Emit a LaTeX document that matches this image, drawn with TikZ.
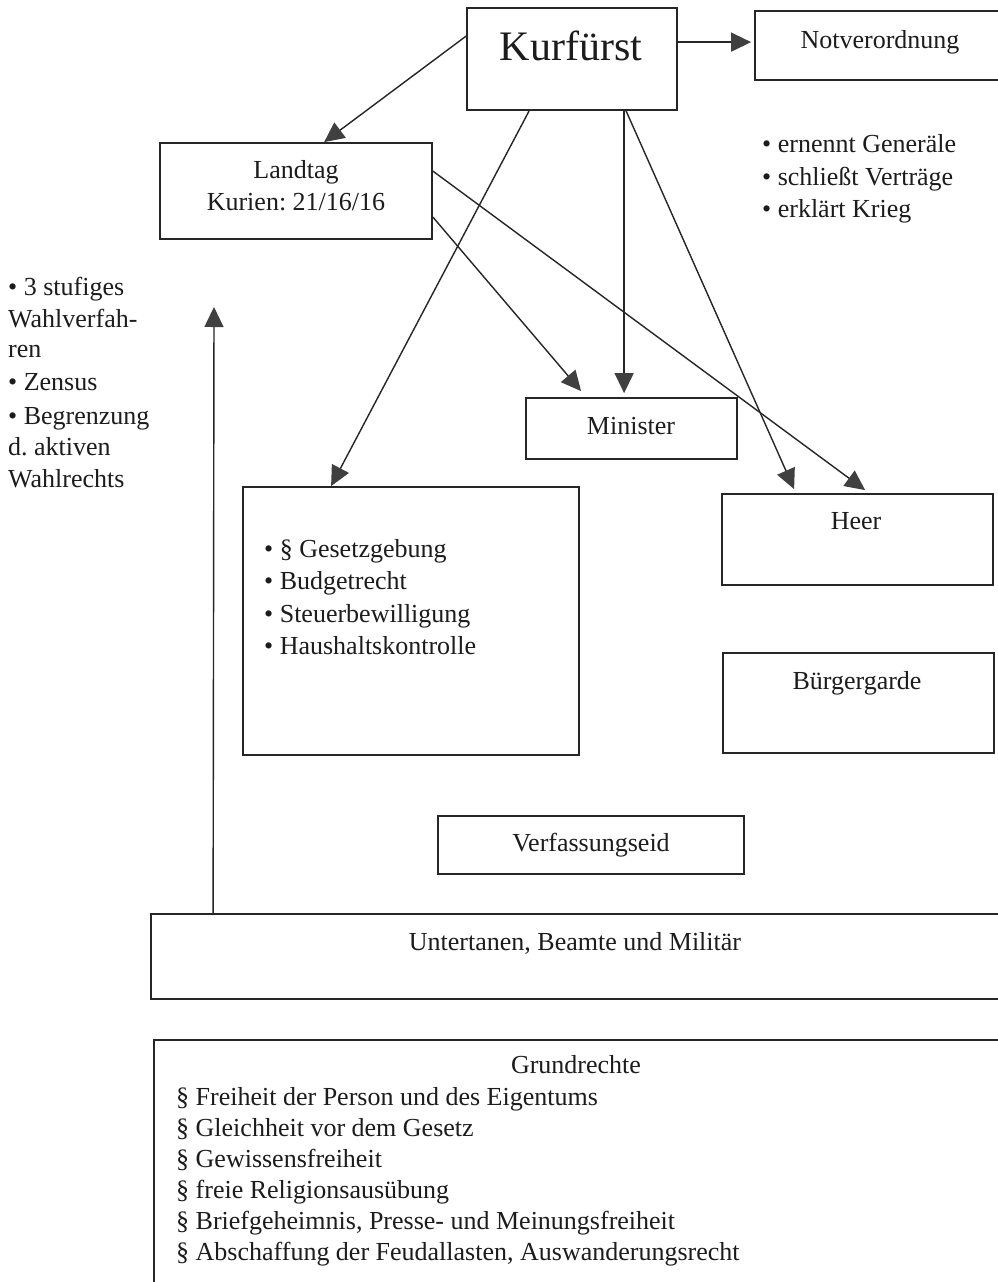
\documentclass[tikz,border=0pt]{standalone}
\usepackage{fontspec}
\setmainfont{Liberation Serif}
\usetikzlibrary{arrows.meta,calc}
\frenchspacing
\definecolor{ink}{HTML}{1C1C1C}
\definecolor{linec}{HTML}{262626}
\definecolor{tipc}{HTML}{404040}
\tikzset{
  box/.style={draw=linec, line width=1.8pt, inner sep=0pt, fill=none},
  txt/.style={inner sep=0pt, text=ink, font=\fontsize{26}{31}\selectfont},
  bigtxt/.style={inner sep=0pt, text=ink, font=\fontsize{42}{48}\selectfont},
  conn/.style={draw=linec, line width=1.4pt, -{Triangle[length=20pt,width=19pt,fill=tipc,color=tipc]}},
}
\begin{document}
\begin{tikzpicture}[x=1pt,y=-1pt]
\useasboundingbox (0,0) rectangle (998,1282);
\clip (0,0) rectangle (998,1282);
\fill[white] (0,0) rectangle (998,1282);

% boxes
\node[box, minimum width=210pt, minimum height=102pt] (kurf) at (572,59) {};
\node[box, minimum width=245pt, minimum height=69pt] (notv) at (877.5,45.5) {};
\node[box, minimum width=272pt, minimum height=96pt] (land) at (296,191) {};
\node[box, minimum width=211pt, minimum height=61pt] (mini) at (631.5,428.5) {};
\node[box, minimum width=336pt, minimum height=268pt] (legis) at (411,621) {};
\node[box, minimum width=271pt, minimum height=91pt] (heer) at (857.5,539.5) {};
\node[box, minimum width=271pt, minimum height=100pt] (buerg) at (858.5,703) {};
\node[box, minimum width=306pt, minimum height=58pt] (verf) at (591,845) {};
\node[box, minimum width=848pt, minimum height=85pt] (unter) at (575,956.5) {};
\node[box, minimum width=845pt, minimum height=260pt] (grund) at (576.5,1170) {};

% texts
\node[bigtxt, anchor=base] (tkurf) at (571,60) {Kurfürst};
\node[txt, anchor=base] (tnotv) at (880,48) {Notverordnung};
\node[txt, anchor=base] (tland1) at (296,178) {Landtag};
\node[txt, anchor=base] (tland2) at (296,210) {Kurien: 21/16/16};
\node[txt, anchor=base west] (tk1) at (762,152) {• ernennt Generäle};
\node[txt, anchor=base west] (tk2) at (762,185) {• schließt Verträge};
\node[txt, anchor=base west] (tk3) at (762,217) {• erklärt Krieg};

\node[txt, anchor=base west] (tw1) at (8,295) {• 3 stufiges};
\node[txt, anchor=base west] (tw2) at (8,327) {Wahlverfah-};
\node[txt, anchor=base west] (tw3) at (8,357) {ren};
\node[txt, anchor=base west] (tw4) at (8,390) {• Zensus};
\node[txt, anchor=base west] (tw5) at (8,424) {• Begrenzung};
\node[txt, anchor=base west] (tw6) at (8,455) {d. aktiven};
\node[txt, anchor=base west] (tw7) at (8,487) {Wahlrechts};

\node[txt, anchor=base] (tmini) at (631,434) {Minister};
\node[txt, anchor=base] (theer) at (856,529) {Heer};
\node[txt, anchor=base] (tbuerg) at (857,689) {Bürgergarde};

\node[txt, anchor=base west] (tl1) at (264,557) {• § Gesetzgebung};
\node[txt, anchor=base west] (tl2) at (264,589) {• Budgetrecht};
\node[txt, anchor=base west] (tl3) at (264,622) {• Steuerbewilligung};
\node[txt, anchor=base west] (tl4) at (264,654) {• Haushaltskontrolle};

\node[txt, anchor=base] (tverf) at (591,851) {Verfassungseid};
\node[txt, anchor=base] (tunter) at (575,950) {Untertanen, Beamte und Militär};

\node[txt, anchor=base] (tgr) at (576,1073) {Grundrechte};
\node[txt, anchor=base west] (tg1) at (176,1105) {§ Freiheit der Person und des Eigentums};
\node[txt, anchor=base west] (tg2) at (176,1136) {§ Gleichheit vor dem Gesetz};
\node[txt, anchor=base west] (tg3) at (176,1167) {§ Gewissensfreiheit};
\node[txt, anchor=base west] (tg4) at (176,1198) {§ freie Religionsausübung};
\node[txt, anchor=base west] (tg5) at (176,1229) {§ Briefgeheimnis, Presse- und Meinungsfreiheit};
\node[txt, anchor=base west] (tg6) at (176,1260) {§ Abschaffung der Feudallasten, Auswanderungsrecht};

% connectors
\coordinate (wahlup) at (214,307);
\draw[conn] ([yshift=-35pt]kurf.north east) -- ([xshift=-3pt,yshift=-32pt]notv.north west);
\draw[conn] ([yshift=-29pt]kurf.north west) -- ([xshift=165pt]land.north west);
\draw[conn] ([xshift=63pt]kurf.south west) -- ([xshift=89pt]legis.north west);
\draw[conn] ([xshift=158pt]kurf.south west) -- ([xshift=99pt,yshift=4pt]mini.north west);
\draw[conn] ([xshift=160pt]kurf.south west) -- ([xshift=73pt,yshift=4pt]heer.north west);
\draw[conn] ([yshift=-75pt]land.north east) -- ([xshift=56pt,yshift=6pt]mini.north west);
\draw[conn] ([yshift=-29pt]land.north east) -- ([xshift=144pt,yshift=3pt]heer.north west);
\draw[conn] ([xshift=63pt]unter.north west) -- (wahlup);
\end{tikzpicture}
\end{document}
